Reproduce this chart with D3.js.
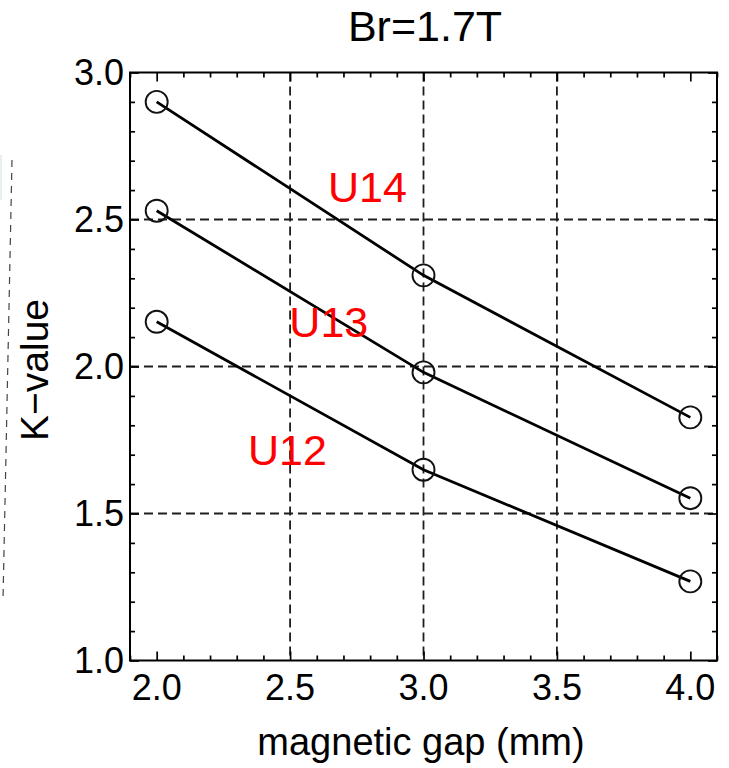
<!DOCTYPE html>
<html>
<head>
<meta charset="utf-8">
<script src="https://cdn.jsdelivr.net/npm/d3@7"></script>
<style>
  html, body { margin: 0; padding: 0; background: #fff; }
  svg { display: block; font-family: "Liberation Sans", Arial, sans-serif; }
</style>
</head>
<body>
<svg id="chart" width="729" height="768"></svg>
<script>
// ---- data ----
const gaps = [2.0, 3.0, 4.0];
const seriesNames = ["U14", "U13", "U12"];
const U14 = [2.90, 2.31, 1.827];
const U13 = [2.53, 1.98, 1.552];
const U12 = [2.152, 1.649, 1.269];
const seriesValues = [U14, U13, U12];
const labelX = [2.79, 2.645, 2.49];
const labelY = [2.56, 2.10, 1.665];
const xTicks = [2.0, 2.5, 3.0, 3.5, 4.0];
const yTicks = [1.0, 1.5, 2.0, 2.5, 3.0];
const titleText = "Br=1.7T";
const xTitle = "magnetic gap (mm)";
const yTitle = "K\u2212value";

// ---- layout ----
const L = 130, R = 717, T = 72.5, B = 660.5;
const svg = d3.select("#chart");
const x = d3.scaleLinear().domain([1.9, 4.1]).range([L, R]);
const y = d3.scaleLinear().domain([1.0, 3.0]).range([B, T]);

// left edge artifact (faint dashed line)
svg.append("line").attr("x1", 12).attr("y1", 160).attr("x2", 3).attr("y2", 600)
  .attr("stroke", "#444").attr("stroke-width", 1.2).attr("stroke-dasharray", "7,6");
svg.append("line").attr("x1", 1).attr("y1", 155).attr("x2", 1).attr("y2", 200)
  .attr("stroke", "#cfe3cf").attr("stroke-width", 1);

// grid
const gridX = xTicks.filter(v => v > 2.0 && v < 4.0);
const gridY = yTicks.filter(v => v > 1.0 && v < 3.0);
svg.append("g").selectAll("line").data(gridX).join("line")
  .attr("x1", d => x(d)).attr("x2", d => x(d)).attr("y1", T).attr("y2", B)
  .attr("stroke", "#1e1e1e").attr("stroke-width", 1.8).attr("stroke-dasharray", "9,5");
svg.append("g").selectAll("line").data(gridY).join("line")
  .attr("y1", d => y(d)).attr("y2", d => y(d)).attr("x1", L).attr("x2", R)
  .attr("stroke", "#1e1e1e").attr("stroke-width", 1.8).attr("stroke-dasharray", "9,5");

// axes with inward ticks (major + minor) on all four sides
const minorX = d3.range(19, 42).map(v => v / 10).filter(v => Math.abs(v * 2 - Math.round(v * 2)) > 1e-6);
const minorY = d3.range(10, 31).map(v => v / 10).filter(v => Math.abs(v * 2 - Math.round(v * 2)) > 1e-6);

function addAxis(axisGen, tx, ty, tickVals, size) {
  const g = svg.append("g").attr("transform", `translate(${tx},${ty})`)
    .call(axisGen.tickValues(tickVals).tickSize(size).tickSizeOuter(0).tickFormat(() => ""));
  g.select(".domain").remove();
  g.selectAll(".tick line").attr("stroke", "#000").attr("stroke-width", 1.7);
  return g;
}
addAxis(d3.axisTop(x), 0, B, xTicks, 9);
addAxis(d3.axisTop(x), 0, B, minorX, 5);
addAxis(d3.axisBottom(x), 0, T, xTicks, 9);
addAxis(d3.axisBottom(x), 0, T, minorX, 5);
addAxis(d3.axisRight(y), L, 0, yTicks, 9);
addAxis(d3.axisRight(y), L, 0, minorY, 5);
addAxis(d3.axisLeft(y), R, 0, yTicks, 9);
addAxis(d3.axisLeft(y), R, 0, minorY, 5);

// tick labels
svg.append("g").selectAll("text").data(xTicks).join("text")
  .attr("x", d => x(d)).attr("y", 700)
  .attr("text-anchor", "middle").attr("font-size", 36).attr("fill", "#000")
  .text(d => d3.format(".1f")(d));
svg.append("g").selectAll("text").data(yTicks).join("text")
  .attr("x", 124).attr("y", d => y(d) + 12.5)
  .attr("text-anchor", "end").attr("font-size", 36).attr("fill", "#000")
  .text(d => d3.format(".1f")(d));

// frame
svg.append("rect").attr("x", L).attr("y", T).attr("width", R - L).attr("height", B - T)
  .attr("fill", "none").attr("stroke", "#000").attr("stroke-width", 2);

// series
const line = d3.line().x((d, i) => x(gaps[i])).y(d => y(d));
seriesValues.forEach((vals, si) => {
  svg.append("path").datum(vals).attr("d", line)
    .attr("fill", "none").attr("stroke", "#000").attr("stroke-width", 2.8);
  svg.append("g").selectAll("circle").data(vals).join("circle")
    .attr("cx", (d, i) => x(gaps[i])).attr("cy", d => y(d)).attr("r", 11)
    .attr("fill", "none").attr("stroke", "#111").attr("stroke-width", 1.9);
  svg.append("text").attr("x", x(labelX[si])).attr("y", y(labelY[si]))
    .attr("text-anchor", "middle").attr("font-size", 43).attr("fill", "#ff0000")
    .text(seriesNames[si]);
});

// titles
svg.append("text").attr("x", 425).attr("y", 41).attr("text-anchor", "middle")
  .attr("font-size", 43).attr("fill", "#000").text(titleText);
svg.append("text").attr("x", 421).attr("y", 755).attr("text-anchor", "middle")
  .attr("font-size", 38).attr("fill", "#000").text(xTitle);
svg.append("text").attr("transform", "translate(48,370) rotate(-90)")
  .attr("text-anchor", "middle").attr("font-size", 39).attr("fill", "#000").text(yTitle);
</script>
</body>
</html>
